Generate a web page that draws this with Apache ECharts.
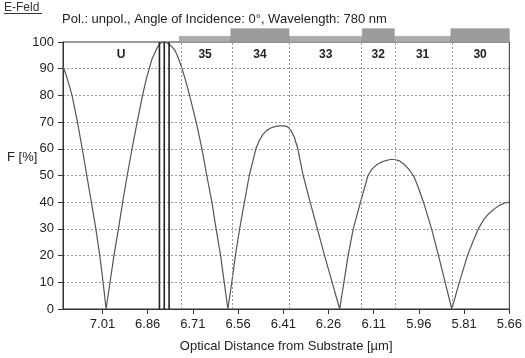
<!DOCTYPE html>
<html>
<head>
<meta charset="utf-8">
<script src="https://cdn.jsdelivr.net/npm/echarts@6/dist/echarts.min.js"></script>
<style>
  html, body { margin: 0; padding: 0; background: #fff; }
  #chart { width: 525px; height: 358px; }
</style>
</head>
<body>
<div id="chart"></div>
<script>
// optical distance [µm] and field intensity F [%]
const distance = [
  7.141, 7.126, 7.111, 7.093, 7.077, 7.062, 7.047, 7.032, 7.019, 7.008, 6.998,
  6.985, 6.972, 6.957, 6.943, 6.928, 6.912, 6.895, 6.877, 6.866, 6.855, 6.846, 6.836, 6.828, 6.820, 6.813, 6.806,
  6.798, 6.787, 6.778, 6.770, 6.760, 6.746, 6.734, 6.721, 6.699, 6.680, 6.664, 6.647, 6.633, 6.618, 6.606, 6.594,
  6.581, 6.569, 6.555, 6.539, 6.523, 6.501, 6.490, 6.478, 6.465, 6.450, 6.435, 6.420, 6.407,
  6.395, 6.385, 6.374, 6.363, 6.354, 6.344, 6.321, 6.297, 6.273, 6.248, 6.223,
  6.209, 6.195, 6.178, 6.154, 6.129, 6.115, 6.100, 6.085, 6.070, 6.055, 6.040,
  6.025, 6.010, 5.994, 5.978, 5.962, 5.945, 5.918, 5.895, 5.873, 5.851,
  5.826, 5.799, 5.780, 5.763, 5.745, 5.730, 5.710, 5.690, 5.675, 5.660
]
const field = [
  91, 86, 80, 70, 60, 50, 40, 30, 20, 10, 0,
  10, 20, 30, 40, 50, 60, 70, 80, 85.5, 90, 93.5, 96, 98, 99.3, 99.9, 100,
  99.8, 99, 98, 97, 94.5, 90, 85.5, 80, 70, 60, 50, 40, 30, 20, 10, 0,
  10, 20, 30, 40, 50, 60, 63, 65.3, 66.9, 67.9, 68.4, 68.6, 68.6,
  68.2, 66.9, 64.5, 60.5, 55.5, 50, 40, 30, 20, 10, 0,
  10, 20, 30, 40, 50, 52.5, 54, 55, 55.6, 56, 56,
  55.5, 54.3, 52.4, 50, 45.5, 40, 30, 20, 10, 0,
  10, 20, 25.5, 30, 33.5, 35.5, 37.5, 39, 39.7, 40
]

// thin layers drawn as vertical lines
const spikes = [6.821, 6.805, 6.789]

// layer stack (H = high index, L = low index)
const layerNames = ['35', '34', '33', '32', '31', '30']
const layerStart = [6.755, 6.584, 6.391, 6.148, 6.042, 5.854]
const layerEnd = [6.584, 6.391, 6.148, 6.042, 5.854, 5.66]
const layerType = ['L', 'H', 'L', 'H', 'L', 'H']
const mediumName = 'U'
const mediumStart = 7.141

const xTicks = [7.01, 6.86, 6.71, 6.56, 6.41, 6.26, 6.11, 5.96, 5.81, 5.66]

const font = 'Liberation Sans, Arial, sans-serif'
const chart = echarts.init(document.getElementById('chart'))

const curve = distance.map((d, i) => [d, field[i]])
const layers = layerNames.map((n, i) => [layerStart[i], layerEnd[i], layerType[i] === 'H' ? 1 : 0])
const labels = [[(mediumStart + layerStart[0]) / 2, mediumName]].concat(
  layerNames.map((n, i) => [(layerStart[i] + layerEnd[i]) / 2, n]))

chart.setOption({
  animation: false,
  title: [
    { text: 'E-Feld', left: -1, top: -3, textStyle: { fontFamily: font, fontSize: 12, fontWeight: 'normal', color: '#333' } },
    { text: 'Pol.: unpol., Angle of Incidence: 0°, Wavelength: 780 nm', left: 57, top: 8,
      textStyle: { fontFamily: font, fontSize: 13, fontWeight: 'normal', color: '#222' } },
    { text: 'F [%]', left: 2, top: 146, textStyle: { fontFamily: font, fontSize: 13, fontWeight: 'normal', color: '#222' } }
  ],
  graphic: [
    { type: 'line', shape: { x1: 4, y1: 13.5, x2: 42, y2: 13.5 }, style: { stroke: '#333', lineWidth: 1 } }
  ],
  grid: { left: 63, right: 13, top: 42, bottom: 47, show: true, borderColor: '#333', borderWidth: 1 },
  xAxis: {
    type: 'value',
    inverse: true,
    min: 5.66,
    max: mediumStart,
    name: 'Optical Distance from Substrate [µm]',
    nameLocation: 'middle',
    nameGap: 31,
    nameTextStyle: { fontFamily: font, fontSize: 13, color: '#222' },
    axisLine: { lineStyle: { color: '#333', width: 1 } },
    axisTick: { show: true, inside: false, length: 5, customValues: xTicks, lineStyle: { color: '#333' } },
    axisLabel: { customValues: xTicks, margin: 9, fontFamily: font, fontSize: 13, color: '#222',
      formatter: v => v.toFixed(2) },
    splitLine: { show: false }
  },
  yAxis: {
    type: 'value',
    min: 0,
    max: 100,
    interval: 10,
    axisLine: { show: true, lineStyle: { color: '#333', width: 1 } },
    axisTick: { show: true, length: 5, lineStyle: { color: '#333' } },
    axisLabel: { margin: 9, fontFamily: font, fontSize: 13, color: '#222' },
    splitLine: { show: true, lineStyle: { color: '#999', type: [2, 2], width: 1 } }
  },
  series: [
    {
      type: 'line',
      data: curve,
      symbol: 'none',
      lineStyle: { color: '#555', width: 1.2 },
      markLine: {
        silent: true,
        symbol: 'none',
        label: { show: false },
        lineStyle: { color: '#999', type: [2, 2], width: 1 },
        data: layerStart.map(x => ({ xAxis: x }))
      },
      z: 3
    },
    {
      type: 'custom',
      clip: false,
      data: spikes.map(x => [x, 0, 100]),
      renderItem: (params, api) => {
        const a = api.coord([api.value(0), api.value(1)])
        const b = api.coord([api.value(0), api.value(2)])
        return { type: 'line', shape: { x1: a[0], y1: a[1], x2: b[0], y2: b[1] },
          style: { stroke: '#222', lineWidth: 1.6 } }
      },
      z: 4
    },
    {
      type: 'custom',
      clip: false,
      data: layers,
      renderItem: (params, api) => {
        const h = api.value(2) ? 5 : 2.1
        const a = api.coord([api.value(0), 100 + h])
        const b = api.coord([api.value(1), 100])
        return { type: 'rect',
          shape: { x: Math.min(a[0], b[0]), y: a[1], width: Math.abs(b[0] - a[0]), height: b[1] - a[1] },
          style: { fill: api.value(2) ? '#9c9c9c' : '#acacac', stroke: '#888', lineWidth: 0.5 } }
      },
      z: 2
    },
    {
      type: 'custom',
      clip: false,
      data: labels,
      renderItem: (params, api) => {
        const p = api.coord([api.value(0), 95.2])
        return { type: 'text', x: p[0], y: p[1],
          style: { text: labels[params.dataIndex][1], align: 'center', verticalAlign: 'middle',
            font: 'bold 12px ' + font, fill: '#222' } }
      },
      z: 5
    }
  ]
})
</script>
</body>
</html>
